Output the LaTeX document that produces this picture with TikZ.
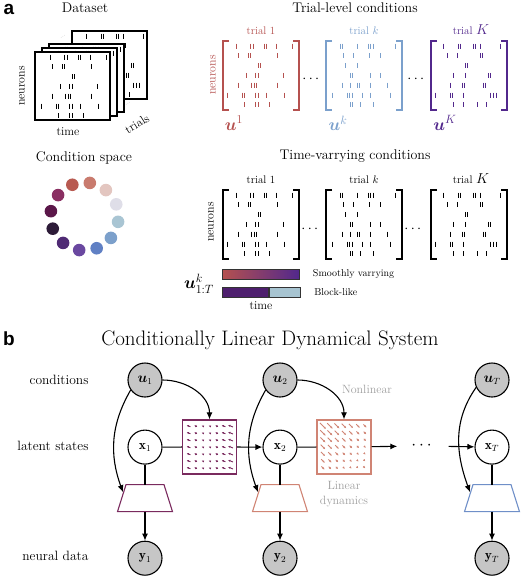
\documentclass[tikz,border=0pt]{standalone}
\usepackage{amsmath,bm}
\usepackage{fontspec}
\newfontfamily\panelfont{Liberation Sans}
\usetikzlibrary{shapes.geometric, arrows.meta, positioning, calc}

% spike patterns: row/{offsets}
\newcommand{\patone}{0/{13,27.5,30,41,43.5,53,69},1/{15,25,27.5,54},2/{35,37.5},3/{23,32.5,35,60},4/{15,28.5,31,33.5,54},5/{4,19,21.5,32.5,35,43,61},6/{21,32.5,35,46}}
\newcommand{\patk}{0/{14,16.5,31,42,44.5,47,69},1/{17,27,43,54},2/{19,31},3/{24,26.5,44,54},4/{16,24,31,33.5,44,61},5/{6,21,23.5,26,36,44,64},6/{24,26.5,34,47}}
\newcommand{\patK}{0/{12,27,29.5,42,44.5,49,69},1/{16,26,49,51.5},2/{34,36.5},3/{22,34,57,59.5},4/{19,31,33.5,52,54.5},5/{4,19,21.5,32,59,62,65},6/{22,32,46,55}}

% pattern, left, top, colour
\newcommand{\spikes}[4]{%
  \foreach \r/\cs in #1 {\foreach \c in \cs {\draw[spike, #4] ({#2+\c},{#3+2.5+9.8*\r}) -- ++(0,5);}}}
\newcommand{\spikematrix}[4]{%
  \spikes{#1}{#2}{#3}{#4}
  \draw[bracket, #4] ({#2+6},#3) -| ({#2},{#3+69}) -- ({#2+6},{#3+69});
  \draw[bracket, #4] ({#2+70},#3) -| ({#2+76},{#3+69}) -- ({#2+70},{#3+69});}

\begin{document}
\begin{tikzpicture}[
    x=1pt, y=-1pt,
    >={Latex[length=7pt,width=6pt]},
    font=\fontsize{13.5}{15}\selectfont
]

\definecolor{trialone}{HTML}{B5514F}
\definecolor{trialk}{HTML}{7BA0CC}
\definecolor{trialK}{HTML}{52288C}
\definecolor{dynone}{HTML}{7A2A5E}
\definecolor{dyntwo}{HTML}{D08474}
\definecolor{emT}{HTML}{6F8FC8}
\definecolor{nodegray}{HTML}{C6C6C6}
\definecolor{blockpurple}{HTML}{4E1F6E}
\definecolor{blockblue}{HTML}{A7C4D1}

\tikzset{
    heading/.style={font=\fontsize{14}{16}\selectfont},
    small/.style={font=\fontsize{11}{13}\selectfont},
    axis/.style={font=\fontsize{12}{14}\selectfont},
    panel/.style={font=\panelfont\bfseries\fontsize{19}{21}\selectfont},
    spike/.style={line width=0.9pt},
    bracket/.style={line width=2.4pt},
    frame/.style={draw, fill=white, line width=1.4pt},
    state/.style={circle, draw, line width=1.1pt, minimum size=34pt, inner sep=0pt},
    obs/.style={state, fill=nodegray},
    dynbox/.style={rectangle, draw, line width=1.2pt, minimum size=54pt, inner sep=0pt},
    emission/.style={rectangle, minimum width=55pt, minimum height=27pt, inner sep=0pt, outer sep=0pt},
    trap/.style={line width=1.1pt, line join=miter},
    field/.style={-{Latex[length=2.4pt,width=2.2pt]}, line width=0.9pt},
    arr/.style={->, line width=1.1pt},
    link/.style={line width=1.1pt},
    note/.style={text=gray!75, font=\fontsize{12}{15}\selectfont, align=center},
    bar/.style={draw=black!80, line width=0.9pt, minimum width=77pt, minimum height=10pt, inner sep=0pt}
}

\useasboundingbox (0,0) rectangle (520,576);

% Panel a: dataset
\node[panel] (pa) at (9,9) {a};
\node[heading] (dataset) at (85,8) {Dataset};
\draw[frame] (72,31) rectangle ++(75,68);
\spikes{\patK}{74}{31}{black}
\draw[frame] (49,44) rectangle ++(75,68);
\spikes{\patk}{51}{44}{black}
\draw[frame] (42,48) rectangle ++(75,68);
\spikes{\patk}{44}{48}{black}
\draw[frame] (35,52) rectangle ++(75,68);
\spikes{\patone}{37}{52}{black}
\node[text=gray, rotate=35, font=\tiny, inner sep=0pt] (dotsup) at (63,37) {...};
\node[text=gray, rotate=35, font=\tiny, inner sep=0pt] (dotsdown) at (128,104) {...};
\node[axis, rotate=90] (neurons) at (22,86) {neurons};
\node[axis] (time) at (68,132) {time};
\node[axis, rotate=32, inner sep=0pt] (trials) at (137,124) {trials};

% Panel a: condition space
\node[heading] (cspace) at (84,158) {Condition space};
\foreach \hex [count=\i from 0] in {C97B6E,E3C6C0,DFDEE8,A9C5D3,7CA0CB,6080C4,6A48A0,4F2A74,2D1B38,5B1749,8A2F62,B85A51}{
    \definecolor{dotcol}{HTML}{\hex}
    \fill[dotcol] ({84.5+34*cos(81-30*\i)},{216.5-34*sin(81-30*\i)}) circle (6.3pt);
}

% Panel a: trial-level conditions
\node[heading] (tlc) at (355,8) {Trial-level conditions};
\spikematrix{\patone}{223}{41}{trialone}
\spikematrix{\patk}{326}{41}{trialk}
\spikematrix{\patK}{431}{41}{trialK}
\node[small, text=trialone] (tl1) at (261,31) {trial 1};
\node[small, text=trialk] (tlk) at (364,31) {trial $k$};
\node[small, text=trialK] (tlK) at (471,30) {trial {\fontsize{14}{16}\selectfont$K$}};
\node[axis, rotate=90, text=trialone] (tlneurons) at (213,75) {neurons};
\node (tldots1) at (312,79) {$\cdots$};
\node (tldots2) at (417,79) {$\cdots$};
\node[text=trialone, font=\fontsize{17}{19}\selectfont] (uone) at (234,123) {$\bm{u}^1$};
\node[text=trialk, font=\fontsize{17}{19}\selectfont] (uk) at (338,123) {$\bm{u}^k$};
\node[text=trialK, font=\fontsize{17}{19}\selectfont] (uK) at (445,123) {$\bm{u}^K$};

% Panel a: time-varying conditions
\node[heading] (tvc) at (355,156) {Time-varrying conditions};
\spikematrix{\patone}{223}{190}{black}
\spikematrix{\patk}{326}{190}{black}
\spikematrix{\patK}{431}{190}{black}
\node[small] (tv1) at (261,180) {trial 1};
\node[small] (tvk) at (364,180) {trial $k$};
\node[small] (tvK) at (471,179) {trial {\fontsize{14}{16}\selectfont$K$}};
\node[axis, rotate=90] (tvneurons) at (211,222) {neurons};
\node (tvdots1) at (311,229) {$\cdots$};
\node (tvdots2) at (414,229) {$\cdots$};
\node[bar, left color=trialone, middle color=white, right color=trialK] (smooth) at (260.5,274) {};
\node[bar, fill=blockpurple, minimum width=46pt, anchor=west] (blockA) at (222,292.5) {};
\node[bar, fill=blockblue, minimum width=31pt, right=0pt of blockA] (blockB) {};
\node[font=\fontsize{10}{12}\selectfont, right=10pt of smooth] (smoothlab) {Smoothly varrying};
\node[font=\fontsize{10}{12}\selectfont, right=10pt of blockB] (blocklab) {Block-like};
\node[font=\fontsize{17}{19}\selectfont] (ukT) at (199,284) {$\bm{u}^k_{1:T}$};
\node[axis] (bartime) at (261,306) {time};

% Panel b
\node[panel] (pb) at (9,339) {b};
\node[font=\fontsize{21}{24}\selectfont] (clds) at (270,340) {Conditionally Linear Dynamical System};
\node[anchor=east] (lcond) at (92,380) {conditions};
\node[anchor=east] (llat) at (92,446) {latent states};
\node[anchor=east] (ldata) at (92,556) {neural data};

% Nodes
\foreach \t/\xx/\col in {1/145/dynone, 2/280/dyntwo, T/492/emT}{
    \node[obs] (u\t) at (\xx,380) {$\bm{u}_{\t}$};
    \node[state, below=32pt of u\t] (x\t) {$\mathbf{x}_{\t}$};
    \node[emission, below=20pt of x\t] (em\t) {};
    \draw[trap, \col] (em\t.south west) -- (em\t.south east)
        -- ([xshift=-8.5pt]em\t.north east) -- ([xshift=8.5pt]em\t.north west) -- cycle;
    \coordinate (in\t) at ([shift={(5.5,-6)}]em\t.west);
    \node[obs, below=29pt of em\t] (y\t) {$\mathbf{y}_{\t}$};
    \draw[link] (x\t) -- (em\t);
    \draw[arr] (em\t) -- (y\t);
}
\node[dynbox, draw=dynone] (dyn1) at (209.5,447) {};
\node[dynbox, draw=dyntwo] (dyn2) at (344,447) {};
\node[inner xsep=14pt, font=\fontsize{18}{20}\selectfont] (dots) at (423,446) {$\cdots$};
\node[note] (nonlin) at (367,389) {Nonlinear};
\node[note, below=3pt of dyn2] (lin) {Linear\\dynamics};

% Vector fields
\foreach \i in {-3,...,3}{
    \foreach \j in {-3,...,3}{
        \pgfmathsetmacro\vx{-1.2-1.1*abs(\i+0.5)}
        \pgfmathsetmacro\m{0.95*(3.4-(\i+\j)/2)}
        \draw[field, dynone] ($(dyn1)+({\i*7-\vx/2},{\j*7-0.2*\vx})$) -- ++({\vx},{0.4*\vx});
        \draw[field, dyntwo] ($(dyn2)+({\i*7-\m/2},{\j*7-\m/2})$) -- ++({\m},{\m});
    }
}

% Edges along the chain
\draw[link] (x1) -- (dyn1);
\draw[arr] (dyn1) -- (x2);
\draw[link] (x2) -- (dyn2);
\draw[arr] (dyn2) -- (dots);
\draw[arr] (dots) -- (xT);

% Edges from conditions
\draw[arr] (u1.east) to[out=0, in=90] (dyn1.north);
\draw[arr] (u2.east) to[out=0, in=90] (dyn2.north);
\draw[arr] (u1.215) to[out=240, in=110] (in1);
\draw[arr] (u2.215) to[out=240, in=110] (in2);
\draw[arr] (uT.205) to[out=235, in=110] (inT);

\end{tikzpicture}
\end{document}
